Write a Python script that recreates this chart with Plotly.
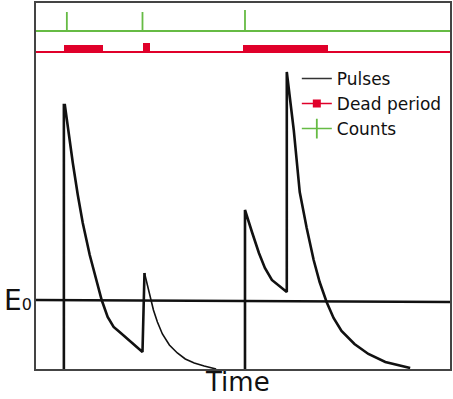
import plotly.graph_objects as go

# Detector pulse train (time vs amplitude, arbitrary units)
pulse1_t = [28, 28, 29, 33, 37, 42, 47, 54, 61, 66, 72, 78, 84, 107, 109]
pulse1_a = [0, 264, 264, 234, 206, 174, 146, 114, 89, 69, 52, 42, 37, 17, 96]

pulse2_t = [109, 111, 114, 118, 122, 127, 134, 142, 150, 159, 169, 181]
pulse2_a = [96, 88, 73, 59, 47, 35, 24, 16, 10, 6, 3, 0]

pulse3_t = [210, 210, 217, 224, 230, 237, 252, 252, 259, 265, 272, 279, 285,
            292, 299, 307, 320, 334, 351, 376]
pulse3_a = [0, 159, 137, 116, 101, 89, 77, 297, 239, 177, 141, 109, 87,
            67, 51, 38, 25, 15, 7, 1]

# Discriminator threshold E0
threshold_t = [0, 416]
threshold_a = [69, 67]

# Counts registered (tick times and heights) on the counts track
count_times = [31, 107, 210]
count_tops = [357, 357, 359]
counts_base = 338

# Dead periods: start, end and bar height on the dead-time track
dead_start = [28, 108, 208]
dead_end = [67, 115, 293]
dead_height = [7, 9, 7]
dead_base = 317

T_MAX = 416
A_MAX = 366

BLACK = "#111111"
GREEN = "#66bb44"
RED = "#e0002a"

fig = go.Figure()

# threshold line
fig.add_trace(go.Scatter(x=threshold_t, y=threshold_a, mode="lines",
                         line=dict(color=BLACK, width=2.5),
                         showlegend=False, hoverinfo="skip"))

# pulses
fig.add_trace(go.Scatter(x=pulse1_t, y=pulse1_a, mode="lines",
                         line=dict(color=BLACK, width=2.6),
                         showlegend=False))
fig.add_trace(go.Scatter(x=pulse2_t, y=pulse2_a, mode="lines",
                         line=dict(color=BLACK, width=1.6),
                         showlegend=False))
fig.add_trace(go.Scatter(x=pulse3_t, y=pulse3_a, mode="lines",
                         line=dict(color=BLACK, width=2.6),
                         showlegend=False))

# counts track: baseline with a tick at each registered count
cx, cy = [0], [counts_base]
for t, top in zip(count_times, count_tops):
    cx += [t, t, t]
    cy += [counts_base, top, counts_base]
cx.append(T_MAX)
cy.append(counts_base)
fig.add_trace(go.Scatter(x=cx, y=cy, mode="lines",
                         line=dict(color=GREEN, width=1.8),
                         showlegend=False))

# dead-time track: baseline plus one bar per dead period
fig.add_trace(go.Scatter(x=[0, T_MAX], y=[dead_base, dead_base], mode="lines",
                         line=dict(color=RED, width=1.8),
                         showlegend=False))
fig.add_trace(go.Bar(
    x=[(s + e) / 2 for s, e in zip(dead_start, dead_end)],
    width=[e - s for s, e in zip(dead_start, dead_end)],
    y=dead_height, base=dead_base,
    marker=dict(color=RED, line=dict(width=0)),
    showlegend=False))

# legend entries
fig.add_trace(go.Scatter(x=[None], y=[None], mode="lines", name="Pulses",
                         line=dict(color="#333333", width=1.5)))
fig.add_trace(go.Scatter(x=[None], y=[None], mode="lines+markers",
                         name="Dead period",
                         line=dict(color=RED, width=1.5),
                         marker=dict(symbol="square", size=8, color=RED)))
fig.add_trace(go.Scatter(x=[None], y=[None], mode="lines+markers",
                         name="Counts",
                         line=dict(color=GREEN, width=1.5),
                         marker=dict(symbol="line-ns", size=14,
                                     line=dict(color=GREEN, width=1.8))))

axis_common = dict(showgrid=False, zeroline=False, showticklabels=False,
                   ticks="", showline=True, mirror=True,
                   linecolor="#444444", linewidth=1.5, fixedrange=True)

fig.update_layout(
    width=453, height=399,
    margin=dict(l=36, r=1, t=3, b=30),
    paper_bgcolor="white", plot_bgcolor="white",
    font=dict(family="DejaVu Sans", color=BLACK),
    barmode="overlay", bargap=0,
    xaxis=dict(range=[0, T_MAX], **axis_common),
    yaxis=dict(range=[0, A_MAX], **axis_common),
    legend=dict(x=0.63, y=0.842, xanchor="left", yanchor="top",
                bgcolor="rgba(0,0,0,0)", borderwidth=0,
                font=dict(size=17, family="DejaVu Sans", color=BLACK),
                itemwidth=30, tracegroupgap=0),
    annotations=[
        dict(text="Time", xref="paper", yref="paper", x=0.486, y=-0.036,
             xanchor="center", yanchor="middle", showarrow=False,
             font=dict(size=26, family="DejaVu Sans", color=BLACK)),
        dict(text="E<span style='font-size:16px'>0</span>", xref="paper",
             yref="y", x=-0.005, y=threshold_a[0], xanchor="right",
             yanchor="middle", showarrow=False,
             font=dict(size=28, family="DejaVu Sans", color=BLACK)),
    ],
)

fig.write_html("out.html")
